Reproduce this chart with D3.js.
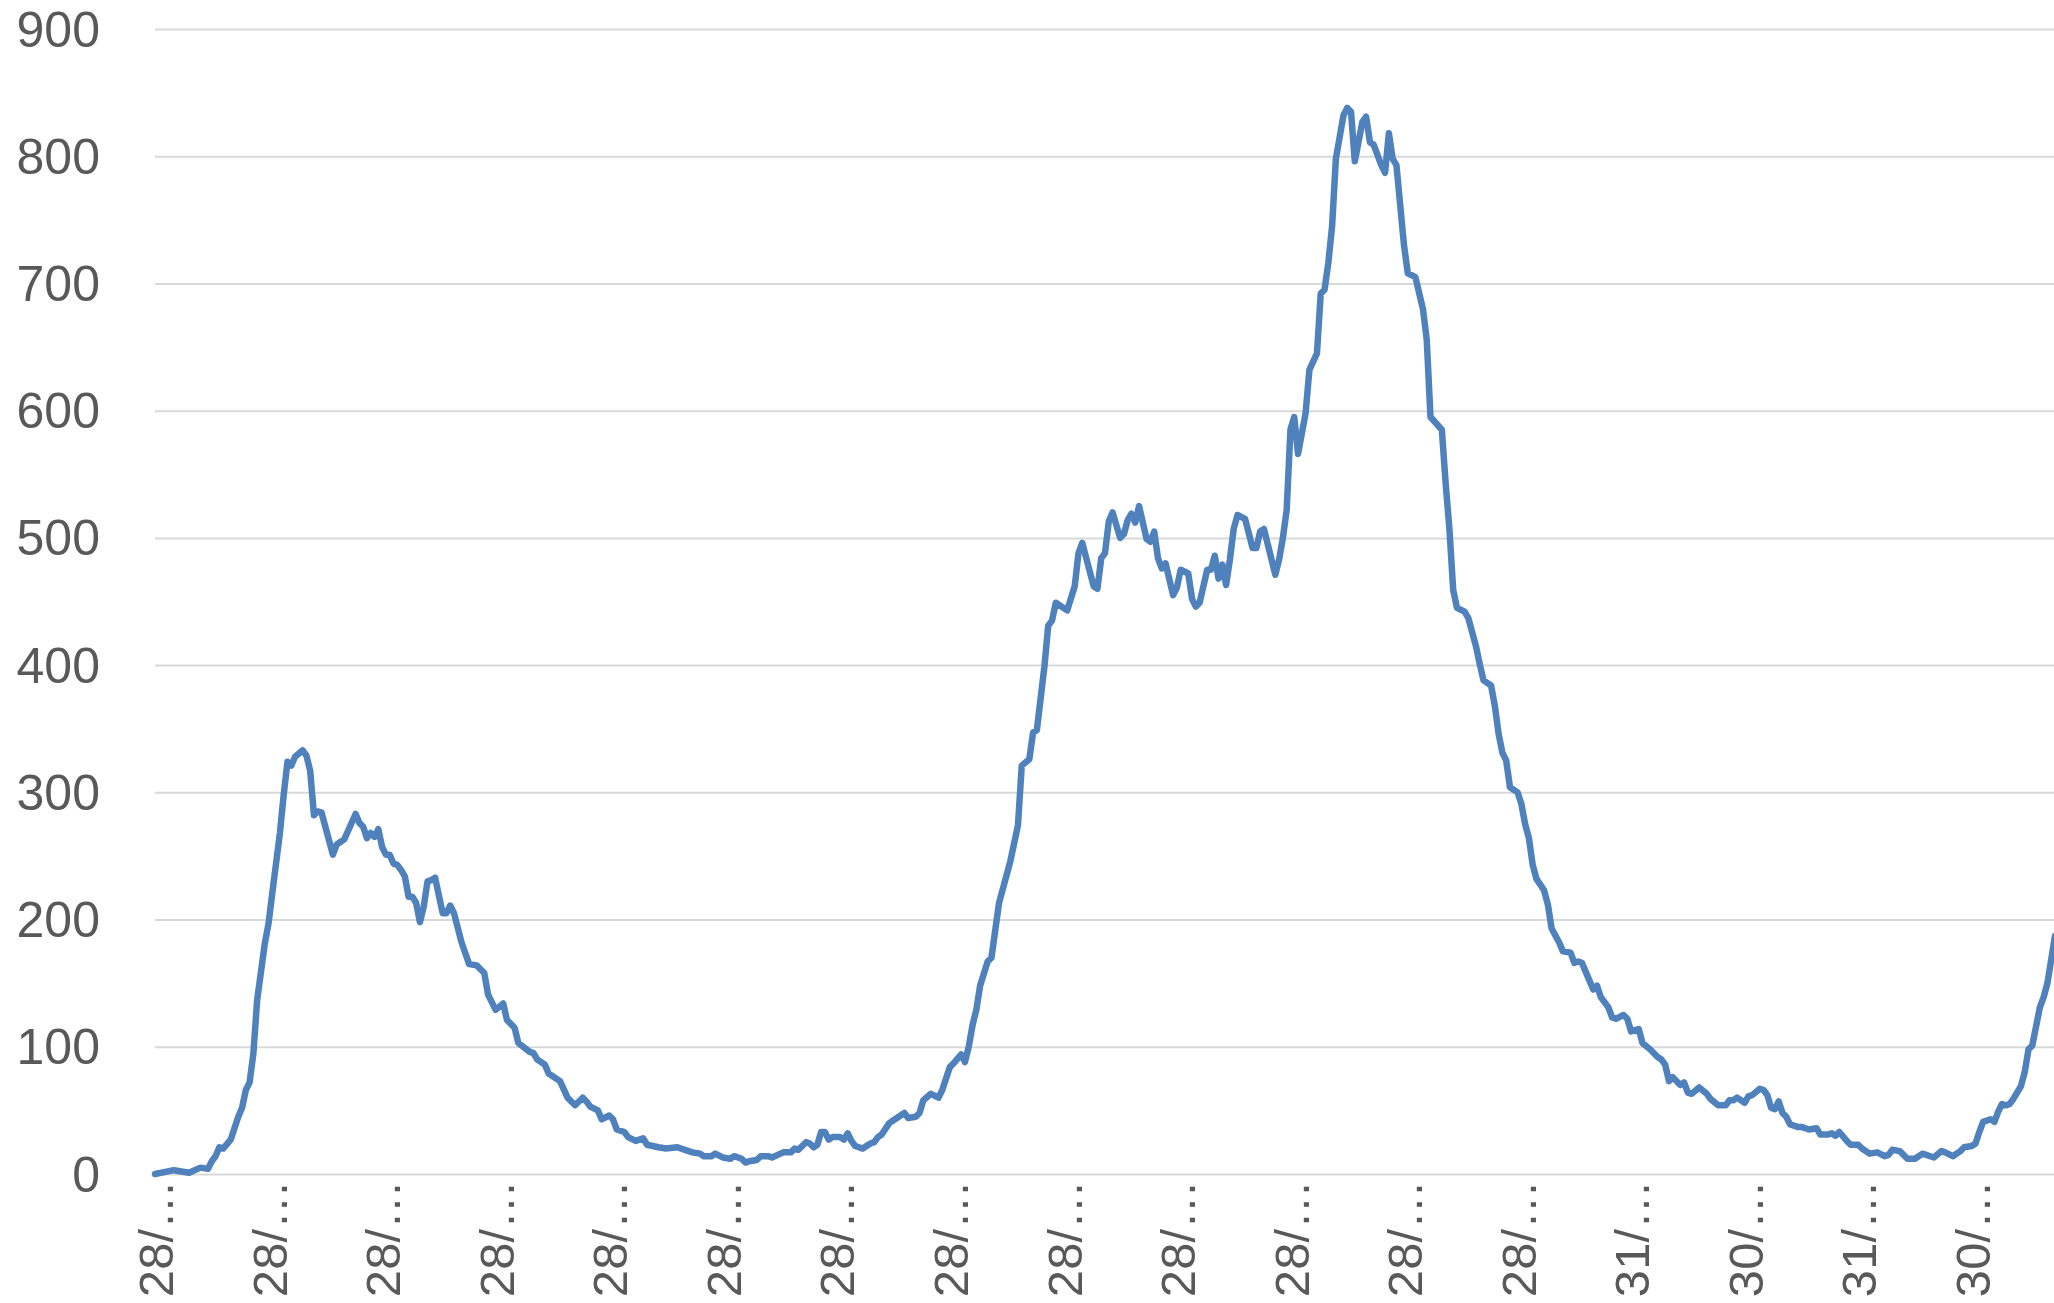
<!DOCTYPE html>
<html>
<head>
<meta charset="utf-8">
<script src="https://cdn.jsdelivr.net/npm/d3@7"></script>
<style>
  html, body { margin: 0; padding: 0; background: #ffffff; }
  svg { display: block; }
</style>
</head>
<body>
<svg id="chart" width="2054" height="1303"></svg>
<script>
// Category index (day number) of each reading, and the value read at it
const days = [
  0,5,9,12,14,15,16,17,18,20,
  22,23,24,25,26,27,29,30,31,33,
  34,35,36,37,39,40,41,42,43,44,
  45,47,48,50,53,54,55,56,57,58,
  59,60,61,62,63,64,65,66,67,68,
  69,70,71,72,73,74,76,77,78,79,
  81,83,85,86,87,88,90,92,93,95,
  96,99,100,101,103,104,107,109,111,113,
  114,115,117,118,120,121,122,124,125,127,
  129,130,133,135,138,140,142,144,145,147,
  148,150,152,153,155,156,157,159,160,162,
  163,166,168,169,170,172,173,174,175,176,
  177,178,179,181,182,183,184,185,187,189,
  190,191,192,194,195,196,198,199,201,202,
  203,205,207,208,209,210,211,213,214,215,
  216,217,218,220,221,223,226,228,229,231,
  232,233,235,236,237,238,241,243,244,245,
  248,249,250,251,252,253,255,256,257,258,
  259,260,262,263,264,265,266,267,269,270,
  271,273,274,275,276,278,279,280,281,282,
  283,284,285,286,288,290,291,292,293,296,
  297,298,299,300,301,302,304,305,307,308,
  309,310,311,312,314,315,316,317,319,320,
  321,322,324,325,326,327,328,330,331,333,
  335,336,337,340,341,342,343,344,346,347,
  349,350,351,353,354,355,356,357,358,360,
  361,362,363,364,365,367,368,369,371,372,
  374,375,376,377,379,380,381,382,384,385,
  386,388,389,390,392,393,395,397,398,399,
  400,401,403,404,405,406,408,410,411,413,
  415,416,417,418,420,421,422,424,425,426,
  427,428,429,430,431,432,434,435,437,439,
  440,442,443,444,445,447,448,450,451,453,
  455,457,458,459,461,463,465,467,470,472,
  473,475,477,478,480,481,482,483,485,486,
  487,488,489,490,491,493,494,495,496,497,
  498,499,500,502
];
const values = [
  0,3,1,5,4,10,14,21,20,27,
  45,52,66,72,95,137,181,197,221,268,
  298,324,321,328,333,329,317,282,285,284,
  273,251,259,263,283,276,273,264,268,265,
  271,257,251,251,244,243,239,234,218,218,
  213,198,210,230,231,233,205,205,211,205,
  182,165,164,161,158,141,129,134,121,115,
  103,96,95,90,86,79,73,60,54,60,
  57,53,50,43,46,43,35,33,29,26,
  28,23,21,20,21,19,17,16,14,14,
  16,13,12,14,12,9,10,11,14,14,
  13,17,17,20,19,25,24,21,23,33,
  33,27,29,29,27,32,26,22,20,24,
  25,29,31,40,42,44,48,44,45,48,
  58,63,60,66,75,84,87,94,88,100,
  117,129,148,167,170,213,246,274,321,326,
  347,349,399,431,435,449,443,462,488,496,
  462,460,484,488,513,520,500,503,514,519,
  512,525,499,497,505,484,476,480,455,461,
  475,472,452,446,449,475,475,486,468,479,
  463,483,507,518,515,492,492,505,507,471,
  483,500,522,585,595,566,598,632,645,692,
  695,716,745,798,832,838,835,796,827,831,
  811,809,793,787,818,798,793,730,708,705,
  680,656,595,585,543,507,459,445,442,437,
  415,401,388,384,368,346,331,325,304,300,
  291,275,264,243,232,223,212,193,182,175,
  174,166,167,166,152,145,148,139,131,123,
  122,125,122,112,114,103,98,92,90,86,
  73,76,70,72,64,63,68,63,59,54,
  54,58,58,60,56,61,62,67,66,62,
  52,51,57,48,45,39,37,37,35,36,
  31,31,32,30,33,26,23,23,20,16,
  17,14,15,19,18,12,12,16,13,18,
  17,14,18,21,22,24,33,41,43,41,
  49,55,54,55,59,69,80,98,101,116,
  131,139,150,187
];

// Category-axis labels (every 30th category) and value-axis ticks
const tickDays = [0,30,60,90,120,150,180,210,240,270,300,330,360,390,420,450,480];
const tickLabels = ["28/…","28/…","28/…","28/…","28/…","28/…","28/…","28/…","28/…",
                    "28/…","28/…","28/…","28/…","31/…","30/…","31/…","30/…"];
const yTicks = [0,100,200,300,400,500,600,700,800,900];
const lastDay = 502;

(function draw() {
  const W = 2054, H = 1303;
  const plotLeft = 155, plotRight = 2055, plotTop = 29, plotBottom = 1174;
  const FONT = "'Liberation Sans', Arial, sans-serif";
  const TEXT = "#595959";

  const svg = d3.select("#chart");
  svg.append("rect").attr("width", W).attr("height", H).attr("fill", "#ffffff");

  const x = d3.scaleLinear().domain([0, lastDay]).range([plotLeft, plotRight]);
  const y = d3.scaleLinear().domain([0, 900]).range([plotBottom, plotTop]);

  // Value axis with horizontal gridlines
  const yAxis = d3.axisLeft(y)
    .tickValues(yTicks)
    .tickFormat(d3.format("d"))
    .tickSize(-(W - plotLeft))
    .tickPadding(55);

  const gy = svg.append("g").attr("transform", `translate(${plotLeft},0)`).call(yAxis);
  gy.select(".domain").remove();
  gy.selectAll(".tick line").attr("stroke", "#d9d9d9").attr("stroke-width", 2);
  gy.selectAll(".tick text")
    .attr("fill", TEXT)
    .attr("dy", "0.34em")
    .style("font-family", FONT)
    .style("font-size", "50px");

  // Category axis with rotated labels
  const xAxis = d3.axisBottom(x)
    .tickValues(tickDays)
    .tickFormat((d, i) => tickLabels[i])
    .tickSize(0);

  const gx = svg.append("g").attr("transform", `translate(0,${plotBottom})`).call(xAxis);
  gx.select(".domain").remove();
  gx.selectAll(".tick text")
    .attr("fill", TEXT)
    .attr("x", -6)
    .attr("y", 0)
    .attr("dy", "0.36em")
    .attr("transform", "rotate(-90)")
    .style("text-anchor", "end")
    .style("font-family", FONT)
    .style("font-size", "49px");

  // Series line
  const line = d3.line()
    .x(i => x(days[i]))
    .y(i => y(values[i]));

  svg.append("path")
    .datum(d3.range(days.length))
    .attr("d", line)
    .attr("fill", "none")
    .attr("stroke", "#4f81bd")
    .attr("stroke-width", 6.5)
    .attr("stroke-linejoin", "round")
    .attr("stroke-linecap", "round");
})();
</script>
</body>
</html>
